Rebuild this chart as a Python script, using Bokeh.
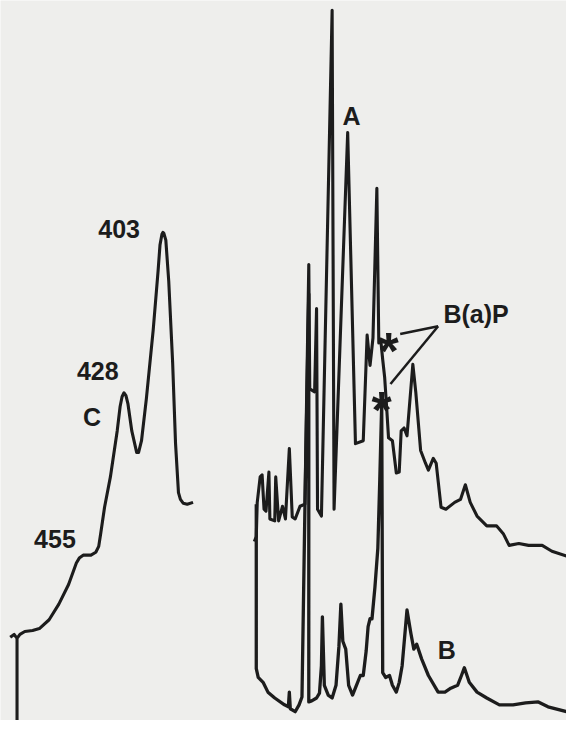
from bokeh.plotting import figure
from bokeh.models import Range1d, ColumnDataSource
from bokeh.embed import file_html
from bokeh.resources import INLINE
from bokeh.core.properties import value

# ---- Trace C (left spectrum): position along recorder chart, signal level (chart units, down = larger)
c_x = [10, 14, 17, 17, 17, 20, 25, 33, 40, 50, 60, 70, 78, 81, 85, 93, 98, 101, 103, 107, 113, 120,
       123, 125, 127, 129, 131, 135, 140, 142, 145, 150, 157, 162, 164, 166, 167, 168, 170, 173, 177,
       180, 183, 185, 188, 192, 198]
c_y = [651, 648, 652, 736, 652, 648, 645, 644, 642, 633, 617, 597, 575, 570, 567, 567, 564, 558, 545,
       518, 487, 440, 415, 405, 401, 404, 412, 440, 462, 462, 450, 407, 337, 277, 250, 239, 237, 238,
       245, 287, 370, 453, 503, 510, 514, 515, 513]

# ---- Trace A (upper spectrum)
a_x = [261, 263, 264, 267, 269, 271, 273, 276, 277, 282, 283, 286, 290, 293, 297, 300, 303, 308, 313,
       317, 318, 323, 325, 326, 330, 341, 343, 357, 365, 373, 377, 380, 383, 387, 389, 391, 393, 395,
       397, 399, 403, 407, 410, 412, 415, 418, 424, 427, 432, 437, 440, 445, 448, 453, 458, 467, 473,
       478, 483, 490, 500, 510, 517, 523, 533, 543, 557, 567, 582]
a_y = [553, 548, 513, 487, 485, 520, 522, 482, 530, 532, 487, 532, 517, 530, 458, 528, 530, 517, 515,
       270, 397, 400, 315, 520, 527, 10, 520, 135, 453, 450, 342, 373, 345, 192, 350, 347, 367, 385,
       415, 447, 450, 483, 482, 440, 437, 445, 372, 400, 460, 473, 480, 468, 473, 518, 520, 513, 510,
       495, 513, 527, 537, 537, 545, 557, 555, 557, 557, 563, 568]

# ---- Trace B (lower spectrum)
b_x = [263, 263, 265, 268, 270, 275, 282, 292, 296, 297, 298, 303, 307, 310, 313, 317, 317, 320, 325,
       328, 330, 331, 333, 337, 341, 345, 348, 350, 352, 355, 358, 362, 366, 370, 373, 376, 378, 380,
       382, 385, 388, 390, 392, 393, 396, 400, 403, 407, 410, 413, 418, 422, 425, 428, 433, 440, 450,
       457, 463, 470, 474, 477, 482, 490, 500, 513, 527, 540, 553, 563, 582]
b_y = [515, 683, 692, 695, 697, 707, 713, 720, 722, 707, 724, 727, 720, 712, 520, 300, 717, 716, 713,
       708, 680, 630, 700, 710, 713, 700, 660, 617, 655, 663, 700, 710, 700, 690, 690, 665, 640, 632,
       632, 600, 560, 490, 412, 687, 692, 690, 700, 707, 697, 680, 623, 647, 663, 658, 673, 690, 707,
       707, 703, 700, 690, 682, 697, 707, 713, 720, 720, 718, 717, 722, 727]

# ---- Labels
lab_text = ["403", "428", "C", "455", "A", "B", "B(a)P"]
lab_x = [122, 100, 94, 56, 361, 459, 489]
lab_y = [234, 379, 426, 550, 118, 664, 320]

star_x = [399, 392]
star_y = [341, 401]

lead_xs = [[450, 411], [450, 401]]
lead_ys = [[333, 341], [333, 392]]

BG = "#eeeeec"
INK = "#1c1c1c"

p = figure(width=566, height=720, output_backend="svg", toolbar_location=None,
           x_range=Range1d(0, 582), y_range=Range1d(736, 0),
           min_border=0, background_fill_color=BG, border_fill_color=BG)
p.axis.visible = False
p.grid.visible = False
p.outline_line_color = None

p.line(c_x, c_y, line_color=INK, line_width=3.1, line_join="round")
p.line(a_x, a_y, line_color=INK, line_width=3.1, line_join="round")
p.line(b_x, b_y, line_color=INK, line_width=3.3, line_join="round")
p.multi_line(lead_xs, lead_ys, line_color=INK, line_width=2.5)

src = ColumnDataSource(dict(x=lab_x, y=lab_y, t=lab_text))
p.text(x="x", y="y", text="t", source=src, text_font=value("Liberation Sans"),
       text_font_style="bold", text_font_size="25px", text_color=INK,
       text_align="center", text_baseline="middle")

p.text(x=star_x, y=star_y, text=["*", "*"], text_font=value("Liberation Sans"),
       text_font_style="bold", text_font_size="52px", text_color=INK,
       text_align="center", text_baseline="alphabetic", y_offset=[17, 17])

open("out.html", "w").write(file_html(p, INLINE))
